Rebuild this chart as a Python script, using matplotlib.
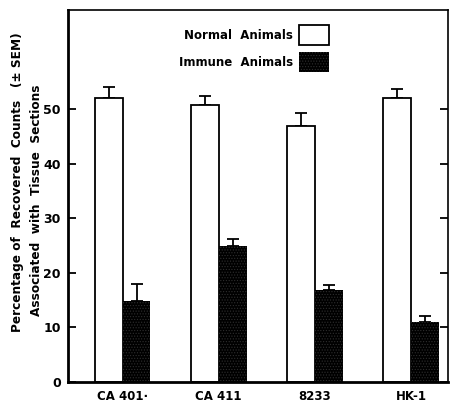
import numpy as np
import matplotlib
matplotlib.use('Agg')
import matplotlib.pyplot as plt

# Datos
lineas = ['CA 401·', 'CA 411', '8233', 'HK-1']
normal = [52.0, 50.8, 46.9, 52.0]
normal_err = [2.0, 1.6, 2.4, 1.7]
inmune = [14.8, 24.9, 16.8, 11.0]
inmune_err = [3.1, 1.2, 0.9, 1.0]

plt.rcParams['font.family'] = ['DejaVu Sans']
plt.rcParams['font.weight'] = 'bold'
plt.rcParams['hatch.linewidth'] = 0.5

fig = plt.figure(figsize=(4.52, 4.03), dpi=100)
ax = fig.add_axes([0.150, 0.053, 0.841, 0.922])

x = np.arange(len(lineas))
w = 0.29

ax.bar(x - w / 2, normal, w, color='white', edgecolor='black', linewidth=1.3,
       label='Normal  Animals', zorder=2)
ax.errorbar(x - w / 2, normal, yerr=[np.zeros(4), normal_err], fmt='none',
            ecolor='black', elinewidth=1.3, capsize=4, capthick=1.3, zorder=1)
ax.bar(x + w / 2, inmune, w, color='black', edgecolor='#2e2e2e', hatch='......',
       linewidth=0, label='Immune  Animals', zorder=2)
ax.errorbar(x + w / 2, inmune, yerr=[np.zeros(4), inmune_err], fmt='none',
            ecolor='black', elinewidth=1.3, capsize=4, capthick=1.3, zorder=1)

ax.set_xlim(-0.57, 3.385)
ax.set_ylim(0, 68.2)
ax.set_yticks([0, 10, 20, 30, 40, 50])
ax.set_xticks(x)
ax.set_xticklabels(lineas, fontsize=8.5, fontweight='bold')
ax.tick_params(axis='y', direction='in', length=6, width=1.3, labelsize=9, right=True, pad=5)
ax.tick_params(axis='x', length=0, pad=6)
for lab in ax.get_yticklabels():
    lab.set_fontweight('bold')

ax.spines['left'].set_linewidth(2)
ax.spines['bottom'].set_linewidth(2)
ax.spines['top'].set_linewidth(1.2)
ax.spines['right'].set_linewidth(1.2)

fig.text(0.038, 0.548, 'Percentage of  Recovered  Counts   (± SEM)', rotation=90,
         ha='center', va='center', fontsize=8.7, fontweight='bold')
fig.text(0.080, 0.504, 'Associated  with  Tissue  Sections', rotation=90,
         ha='center', va='center', fontsize=8.7, fontweight='bold')

leg = ax.legend(loc='upper center', bbox_to_anchor=(0.49, 0.985), frameon=False,
                markerfirst=False, fontsize=8.5, handlelength=2.6, handleheight=2.2,
                labelspacing=0.6, handletextpad=0.5, borderpad=0.3)
for t in leg.get_texts():
    t.set_fontweight('bold')

plt.savefig('out.png', dpi=100)
